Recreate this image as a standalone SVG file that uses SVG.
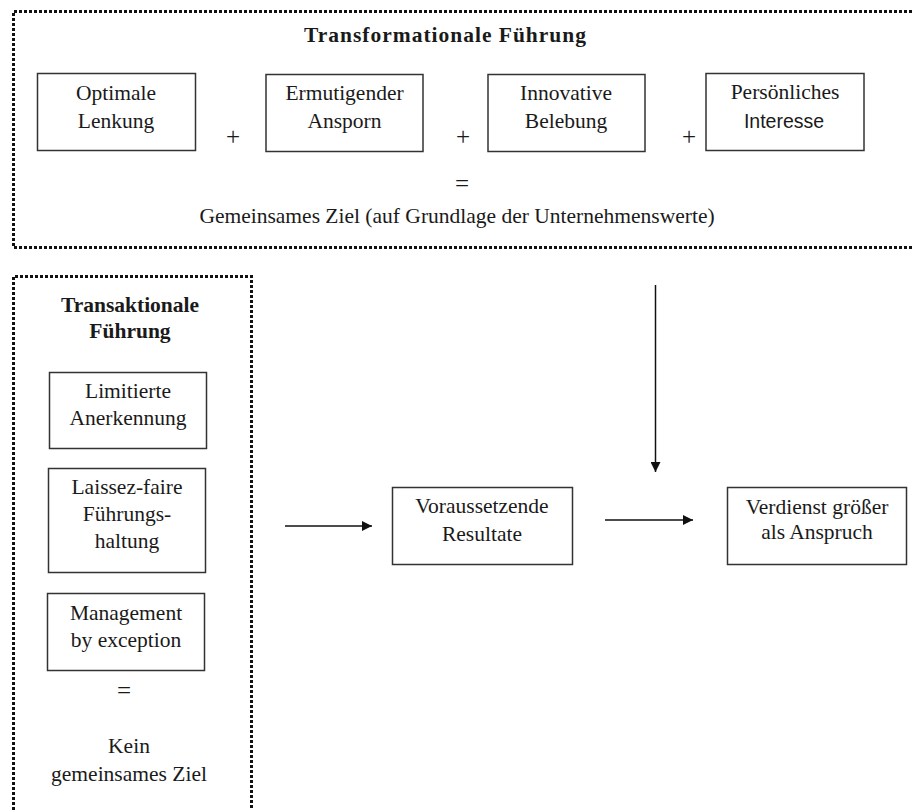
<svg xmlns="http://www.w3.org/2000/svg" width="912" height="810" viewBox="0 0 912 810">
<style>
text{font-family:"Liberation Serif","Times New Roman",serif;font-size:21.5px;fill:#1a1a1a;text-anchor:middle}
.b{font-weight:bold}
.op{font-size:25px}
.s{font-family:"Liberation Sans",Arial,sans-serif;font-size:19.5px}
.box{fill:#fff;stroke:#333;stroke-width:1.5}
.dot{fill:none;stroke:#111;stroke-width:3;stroke-dasharray:3 2}
.con{stroke:#111;stroke-width:1.5;fill:none;marker-end:url(#ah)}
</style>
<defs>
<marker id="ah" viewBox="0 0 10 10" refX="10" refY="5" markerWidth="10" markerHeight="10" markerUnits="userSpaceOnUse" orient="auto">
<path d="M0,0 L10,5 L0,10 Z" fill="#111"/>
</marker>
</defs>
<rect width="912" height="810" fill="#fff"/>
<g id="transformational">
<path class="dot" d="M912,11.5 L13.5,11.5 L13.5,247.5 L912,247.5"/>
<text class="b" x="445" y="42" textLength="282" lengthAdjust="spacing">Transformationale Führung</text>
<text class="op" x="233" y="145">+</text>
<text class="op" x="463" y="145">+</text>
<text class="op" x="689" y="145">+</text>
<text class="op" x="462" y="192">=</text>
<text x="457" y="223">Gemeinsames Ziel (auf Grundlage der Unternehmenswerte)</text>
</g>
<g id="n-optimale"><rect class="box" x="37.5" y="73.5" width="158" height="77"/><text x="116" y="100">Optimale</text><text x="116" y="128">Lenkung</text></g>
<g id="n-ermutigender"><rect class="box" x="266" y="74.5" width="157" height="77"/><text x="344.5" y="100">Ermutigender</text><text x="344.5" y="128">Ansporn</text></g>
<g id="n-innovative"><rect class="box" x="488" y="74.5" width="157" height="77"/><text x="566" y="100">Innovative</text><text x="566" y="128">Belebung</text></g>
<g id="n-persoenlich"><rect class="box" x="706" y="73.5" width="158" height="77"/><text x="785" y="99">Persönliches</text><text class="s" x="784" y="128">Interesse</text></g>
<g id="transaktional">
<path class="dot" d="M13.5,810 L13.5,276.5 L251.5,276.5 L251.5,810"/>
<text class="b" x="130" y="312">Transaktionale</text>
<text class="b" x="130" y="338">Führung</text>
<text class="op" x="124" y="699">=</text>
<text x="129" y="753">Kein</text>
<text x="129" y="781">gemeinsames Ziel</text>
</g>
<g id="n-limitierte"><rect class="box" x="49.5" y="372.5" width="157" height="76"/><text x="128" y="398">Limitierte</text><text x="128" y="425">Anerkennung</text></g>
<g id="n-laissez"><rect class="box" x="48.5" y="468.5" width="157" height="104"/><text x="127" y="494">Laissez-faire</text><text x="127" y="521">Führungs-</text><text x="127" y="548">haltung</text></g>
<g id="n-management"><rect class="box" x="47.5" y="593.5" width="157" height="77"/><text x="126" y="620">Management</text><text x="126" y="647">by exception</text></g>
<g id="n-voraussetzende"><rect class="box" x="392.5" y="487.5" width="180" height="77"/><text x="482" y="513">Voraussetzende</text><text x="482" y="541">Resultate</text></g>
<g id="n-verdienst"><rect class="box" x="727.5" y="487.5" width="179" height="77"/><text x="817" y="514">Verdienst größer</text><text x="817" y="539">als Anspruch</text></g>
<g id="connectors">
<line class="con" x1="285" y1="526" x2="372" y2="526"/>
<line class="con" x1="605" y1="520" x2="693" y2="520"/>
<line class="con" x1="655.5" y1="285" x2="655.5" y2="472"/>
</g>
</svg>
